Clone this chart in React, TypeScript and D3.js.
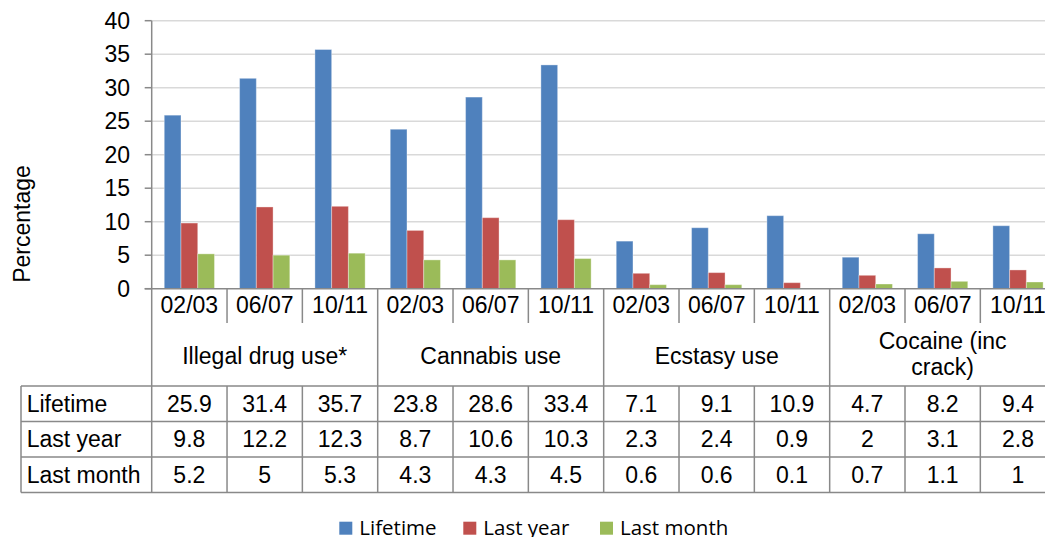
import React from "react";
import * as d3 from "d3";

// Survey periods and drug categories
const periods = ["02/03", "06/07", "10/11"];
const groupLabels: string[][] = [
  ["Illegal drug use*"],
  ["Cannabis use"],
  ["Ecstasy use"],
  ["Cocaine (inc", "crack)"],
];
const seriesNames = ["Lifetime", "Last year", "Last month"];
const seriesColors = ["#4F81BD", "#C0504D", "#9BBB59"];

// Percentages, one value per group × period column
const lifetime = [25.9, 31.4, 35.7, 23.8, 28.6, 33.4, 7.1, 9.1, 10.9, 4.7, 8.2, 9.4];
const lastYear = [9.8, 12.2, 12.3, 8.7, 10.6, 10.3, 2.3, 2.4, 0.9, 2, 3.1, 2.8];
const lastMonth = [5.2, 5, 5.3, 4.3, 4.3, 4.5, 0.6, 0.6, 0.1, 0.7, 1.1, 1];
const seriesValues = [lifetime, lastYear, lastMonth];

const yTicks = [0, 5, 10, 15, 20, 25, 30, 35, 40];

const W = 1045;
const H = 537;
const FONT = "'Liberation Sans', Arial, sans-serif";
const FS = 23;
const LINE = "#898989";
const GRID = "#d9d9d9";

export default function App() {
  const left = 151.7;
  const colW = 75.33;
  const nCols = groupLabels.length * periods.length;
  const right = left + colW * nCols;
  const top = 20.7;
  const bottom = 288.7;

  const columns = d3.range(nCols).map(String);
  const x = d3.scaleBand<string>().domain(columns).range([left, right]).padding(0);
  const inner = d3
    .scaleBand<string>()
    .domain(seriesNames)
    .range([0, x.bandwidth()])
    .paddingInner(0)
    .paddingOuter(0.75);
  const y = d3.scaleLinear().domain([0, 40]).range([bottom, top]);

  // table geometry
  const yearRowBottom = 323;
  const headerBottom = 386;
  const rowH = 35.5;
  const tableLeft = 21;
  const groupW = colW * periods.length;

  return (
    <svg
      width={W}
      height={H}
      style={{ position: "absolute", left: 0, top: 0, display: "block", background: "#fff" }}
      fontFamily={FONT}
    >
      {/* gridlines */}
      {yTicks.map((t) =>
        t === 0 ? null : (
          <line key={"g" + t} x1={left} x2={right} y1={y(t)} y2={y(t)} stroke={GRID} strokeWidth={1.5} />
        )
      )}

      {/* bars */}
      {seriesValues.map((vals, si) =>
        vals.map((v, ci) => (
          <rect
            key={si + "-" + ci}
            x={(x(String(ci)) as number) + (inner(seriesNames[si]) as number)}
            y={y(v)}
            width={inner.bandwidth()}
            height={y(0) - y(v)}
            fill={seriesColors[si]}
            stroke="#ffffff"
            strokeOpacity={0.35}
            strokeWidth={1}
          />
        ))
      )}

      {/* y axis */}
      <line x1={left} x2={left} y1={top} y2={bottom} stroke={LINE} strokeWidth={1.5} />
      {yTicks.map((t) => (
        <g key={"t" + t}>
          <line x1={left - 7} x2={left} y1={y(t)} y2={y(t)} stroke={LINE} strokeWidth={1.5} />
          <text x={130} y={y(t) + 8} textAnchor="end" fontSize={FS} fill="#000">
            {t}
          </text>
        </g>
      ))}
      <text
        transform={`translate(${30},${224}) rotate(-90)`}
        textAnchor="middle"
        fontSize={FS}
        fill="#000"
      >
        Percentage
      </text>

      {/* category axis line / table header top */}
      <line x1={left - 7} x2={right} y1={bottom} y2={bottom} stroke={LINE} strokeWidth={1.5} />

      {/* period labels and dividers */}
      {columns.map((c, ci) => {
        const cx = (x(c) as number) + x.bandwidth() / 2;
        return (
          <text key={"p" + ci} x={cx} y={313} textAnchor="middle" fontSize={FS} fill="#000">
            {periods[ci % periods.length]}
          </text>
        );
      })}
      {columns.map((c, ci) =>
        ci % periods.length === 0 ? null : (
          <line
            key={"pd" + ci}
            x1={x(c) as number}
            x2={x(c) as number}
            y1={bottom}
            y2={yearRowBottom}
            stroke={LINE}
            strokeWidth={1.5}
          />
        )
      )}

      {/* group labels and borders */}
      {groupLabels.map((lines, gi) => {
        const gx = left + gi * groupW;
        const cx = gx + groupW / 2;
        const baseY = lines.length === 1 ? 363.5 : 348.5;
        return (
          <g key={"gl" + gi}>
            <line x1={gx} x2={gx} y1={bottom} y2={headerBottom} stroke={LINE} strokeWidth={1.5} />
            {lines.map((ln, li) => (
              <text key={li} x={cx} y={baseY + li * 26.5} textAnchor="middle" fontSize={FS} fill="#000">
                {ln}
              </text>
            ))}
          </g>
        );
      })}

      {/* data table */}
      {seriesNames.map((name, si) => {
        const ry = headerBottom + si * rowH;
        return (
          <g key={"row" + si}>
            <text x={26.7} y={ry + 25.5} fontSize={FS} fill="#000">
              {name}
            </text>
            {seriesValues[si].map((v, ci) => (
              <text
                key={ci}
                x={(x(String(ci)) as number) + x.bandwidth() / 2}
                y={ry + 25.5}
                textAnchor="middle"
                fontSize={FS}
                fill="#000"
              >
                {v}
              </text>
            ))}
          </g>
        );
      })}
      {d3.range(seriesNames.length + 1).map((i) => (
        <line
          key={"h" + i}
          x1={tableLeft}
          x2={right}
          y1={headerBottom + i * rowH}
          y2={headerBottom + i * rowH}
          stroke={LINE}
          strokeWidth={1.5}
        />
      ))}
      <line
        x1={tableLeft}
        x2={tableLeft}
        y1={headerBottom}
        y2={headerBottom + 3 * rowH}
        stroke={LINE}
        strokeWidth={1.5}
      />
      {d3.range(nCols + 1).map((ci) => {
        const lx = left + ci * colW;
        return (
          <line
            key={"v" + ci}
            x1={lx}
            x2={lx}
            y1={headerBottom}
            y2={headerBottom + 3 * rowH}
            stroke={LINE}
            strokeWidth={1.5}
          />
        );
      })}

      {/* legend */}
      {seriesNames.map((name, si) => {
        const lx = [339.3, 463.3, 600][si];
        return (
          <g key={"lg" + si}>
            <rect x={lx} y={521.7} width={13} height={13} fill={seriesColors[si]} />
            <text
              x={lx + 20}
              y={534.5}
              fontSize={20.5}
              fontFamily="'Open Sans', 'Noto Sans', sans-serif"
              fill="#000"
            >
              {name}
            </text>
          </g>
        );
      })}
    </svg>
  );
}
